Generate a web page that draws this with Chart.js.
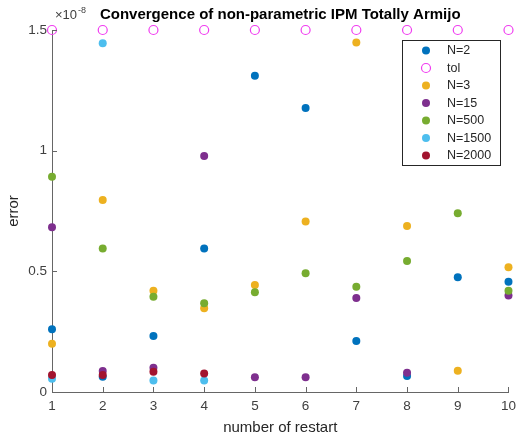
<!DOCTYPE html>
<html>
<head>
<meta charset="utf-8">
<script src="https://cdn.jsdelivr.net/npm/chart.js@4.4.1/dist/chart.umd.min.js"></script>
<style>
  html, body { margin: 0; background: #fff; }
  canvas { display: block; }
</style>
</head>
<body>
<canvas id="errChart" width="522" height="441"></canvas>
<script>
// values are in units of 1e-8
const restarts = [1, 2, 3, 4, 5, 6, 7, 8, 9, 10];
const errN2    = [0.26, 0.063, 0.232, 0.595, 1.31, 1.177, 0.211, 0.066, 0.475, 0.457];
const tolLine  = [1.5, 1.5, 1.5, 1.5, 1.5, 1.5, 1.5, 1.5, 1.5, 1.5];
const errN3    = [0.20, 0.796, 0.42, 0.347, 0.443, 0.706, 1.448, 0.688, 0.088, 0.517];
const errN15   = [0.683, 0.087, 0.10, 0.978, 0.061, 0.061, 0.39, 0.08, null, 0.40];
const errN500  = [0.892, 0.595, 0.395, 0.368, 0.413, 0.492, 0.436, 0.543, 0.741, 0.42];
const errN1500 = [0.055, 1.445, 0.048, 0.048, null, null, null, null, null, null];
const errN2000 = [0.07, 0.07, 0.084, 0.077, null, null, null, null, null, null];
const yTicks = [0, 0.5, 1, 1.5];
const yExponent = '-8';

const seriesNames  = ['N=2', 'tol', 'N=3', 'N=15', 'N=500', 'N=1500', 'N=2000'];
const seriesValues = [errN2, tolLine, errN3, errN15, errN500, errN1500, errN2000];
const seriesColors = ['#0072BD', '#F03CF0', '#EDB120', '#7E2F8E', '#77AC30', '#4DBEEE', '#A2142F'];

const FONT = "'Liberation Sans', Arial, sans-serif";
const AXIS_COLOR = '#666';
Chart.defaults.font.family = FONT;

const datasets = seriesValues.map((vals, i) => {
  const open = seriesNames[i] === 'tol';
  return {
    label: seriesNames[i],
    data: restarts.map((x, j) => ({ x: x, y: vals[j] })).filter(p => p.y !== null),
    pointStyle: 'circle',
    pointRadius: open ? 4.5 : 4,
    pointBorderWidth: open ? 1.2 : 0,
    borderColor: seriesColors[i],
    backgroundColor: open ? 'rgba(0,0,0,0)' : seriesColors[i],
    order: seriesValues.length - i,   // later series on top, like MATLAB
    clip: false
  };
});

// MATLAB style inward ticks, exponent label and boxed legend
const extras = {
  id: 'extras',
  afterDraw(chart) {
    const { ctx, chartArea: a, scales: { x, y } } = chart;
    ctx.save();
    ctx.strokeStyle = AXIS_COLOR;
    ctx.lineWidth = 1;
    ctx.beginPath();
    x.ticks.forEach(t => {
      const px = Math.round(x.getPixelForValue(t.value)) + 0.5;
      ctx.moveTo(px, a.bottom);
      ctx.lineTo(px, a.bottom - 5);
    });
    y.ticks.forEach(t => {
      const py = Math.round(y.getPixelForValue(t.value)) + 0.5;
      ctx.moveTo(a.left, py);
      ctx.lineTo(a.left + 5, py);
    });
    ctx.stroke();

    // x10^-8
    ctx.fillStyle = '#404040';
    ctx.textBaseline = 'alphabetic';
    ctx.textAlign = 'left';
    ctx.font = '13px ' + FONT;
    ctx.fillText('\u00d710', a.left + 3, a.top - 11);
    const w = ctx.measureText('\u00d710').width;
    ctx.font = '9px ' + FONT;
    ctx.fillText(yExponent, a.left + 3 + w + 1, a.top - 17);

    // legend
    const lx = 402.5, ly = 40.5, lw = 98, lh = 125;
    ctx.fillStyle = '#fff';
    ctx.fillRect(lx, ly, lw, lh);
    ctx.strokeStyle = '#262626';
    ctx.strokeRect(lx, ly, lw, lh);
    ctx.font = '12.5px ' + FONT;
    ctx.textBaseline = 'middle';
    chart.data.datasets.forEach((ds, i) => {
      const ry = 50.5 + i * 17.5;
      ctx.beginPath();
      ctx.arc(426, ry, ds.pointRadius, 0, Math.PI * 2);
      if (ds.pointBorderWidth) {
        ctx.lineWidth = ds.pointBorderWidth;
        ctx.strokeStyle = ds.borderColor;
        ctx.stroke();
      } else {
        ctx.fillStyle = ds.backgroundColor;
        ctx.fill();
      }
      ctx.fillStyle = '#262626';
      ctx.fillText(ds.label, 447, ry + 0.5);
    });
    ctx.restore();
  }
};

new Chart(document.getElementById('errChart'), {
  type: 'scatter',
  data: { datasets: datasets },
  options: {
    responsive: false,
    animation: false,
    layout: { padding: { top: 6, right: 10, left: 0, bottom: 0 } },
    plugins: {
      legend: { display: false },
      tooltip: { enabled: false },
      title: {
        display: true,
        text: 'Convergence of non-parametric IPM Totally Armijo',
        color: '#000',
        font: { size: 15, weight: 'bold' },
        padding: { top: 0, bottom: 6 },
        fullSize: false
      }
    },
    scales: {
      x: {
        type: 'linear',
        min: 1,
        max: 10,
        afterBuildTicks: s => { s.ticks = restarts.map(v => ({ value: v })); },
        ticks: { color: '#404040', font: { size: 13.5 }, padding: 6, callback: v => String(v) },
        grid: { drawOnChartArea: false, drawTicks: false },
        border: { color: AXIS_COLOR, width: 1 },
        title: { display: true, text: 'number of restart', color: '#262626', font: { size: 15 }, padding: { top: 0, bottom: 4 } },
        afterFit: s => { s.height = 49; }
      },
      y: {
        type: 'linear',
        min: 0,
        max: 1.5,
        afterBuildTicks: s => { s.ticks = yTicks.map(v => ({ value: v })); },
        ticks: { color: '#404040', font: { size: 13.5 }, padding: 5, callback: v => String(v) },
        grid: { drawOnChartArea: false, drawTicks: false },
        border: { color: AXIS_COLOR, width: 1 },
        title: { display: true, text: 'error', color: '#262626', font: { size: 15 }, padding: { top: 5, bottom: 0 } },
        afterFit: s => { s.width = 52; }
      }
    }
  },
  plugins: [extras]
});
</script>
</body>
</html>
